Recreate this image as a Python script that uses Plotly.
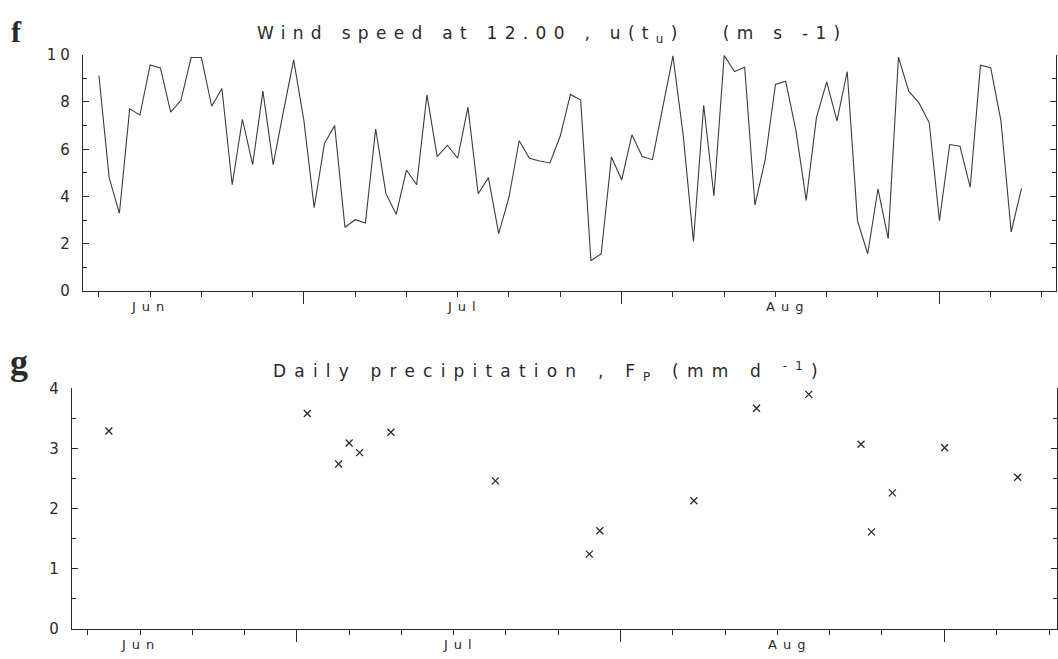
import pandas as pd
import plotly.graph_objects as go

# ---- data -------------------------------------------------------------
# wind speed at 12.00, one value per day starting 11 June
wind_start = "1987-06-11"
wind_speed = [9.12, 4.80, 3.29, 7.71, 7.45, 9.57, 9.44, 7.57, 8.07, 9.88,
              9.88, 7.82, 8.57, 4.50, 7.27, 5.35, 8.46, 5.35, 7.60, 9.78,
              7.20, 3.53, 6.24, 7.00, 2.70, 3.02, 2.88, 6.86, 4.12, 3.25,
              5.12, 4.50, 8.30, 5.69, 6.17, 5.62, 7.78, 4.12, 4.80, 2.43,
              3.96, 6.36, 5.62, 5.50, 5.42, 6.55, 8.32, 8.08, 1.28, 1.58,
              5.67, 4.70, 6.61, 5.69, 5.56, 7.75, 9.95, 6.60, 2.10, 7.86,
              4.02, 9.97, 9.29, 9.47, 3.64, 5.56, 8.74, 8.88, 6.79, 3.84,
              7.34, 8.85, 7.20, 9.29, 2.98, 1.58, 4.32, 2.22, 9.90, 8.46,
              7.96, 7.13, 2.98, 6.20, 6.13, 4.39, 9.56, 9.45, 7.20, 2.50,
              4.35]

# days with precipitation
precip_dates = ["1987-06-13", "1987-07-02", "1987-07-05", "1987-07-06",
                "1987-07-07", "1987-07-10", "1987-07-20", "1987-07-29",
                "1987-07-30", "1987-08-08", "1987-08-14", "1987-08-19",
                "1987-08-24", "1987-08-25", "1987-08-27", "1987-09-01",
                "1987-09-08"]
precip_mm = [3.29, 3.58, 2.74, 3.09, 2.93, 3.27, 2.46, 1.24, 1.63, 2.13,
             3.67, 3.90, 3.07, 1.61, 2.26, 3.01, 2.52]

month_labels = ["Jun", "Jul", "Aug"]
month_label_dates = ["1987-06-16", "1987-07-16 16:00", "1987-08-17 04:00"]

wind_ticks_y = [0, 2, 4, 6, 8, 10]
precip_ticks_y = [0, 1, 2, 3, 4]

# ---- geometry ---------------------------------------------------------
W, H = 1058, 659
INK = "#2a2a2a"
FONT = "DejaVu Sans"

wind_days = pd.date_range(wind_start, periods=len(wind_speed), freq="D")
t0 = pd.Timestamp(wind_start)

# tick marks every five days (1st, 6th, ... of each month), longer at month starts
tick_days = []
for m in (6, 7, 8, 9):
    for d in (1, 6, 11, 16, 21, 26):
        ts = pd.Timestamp(1987, m, d)
        if t0 <= ts <= pd.Timestamp("1987-09-11"):
            tick_days.append(ts)
month_starts = [t for t in tick_days if t.day == 1]
five_day = [t for t in tick_days if t.day != 1]


def px_x(p):
    return p / W


def px_y(p):
    return (H - p) / H


def spaced(s, ls, size):
    return f'<span style="letter-spacing:{ls}px;font-size:{size}px">{s}</span>'


def day_range(before, after):
    return [t0 - pd.Timedelta(days=before), t0 + pd.Timedelta(days=after)]


fig = go.Figure()

fig.add_trace(go.Scatter(
    x=wind_days, y=wind_speed, mode="lines",
    line=dict(color="#3c3c3c", width=1.1),
    xaxis="x", yaxis="y", showlegend=False))

fig.add_trace(go.Scatter(
    x=pd.to_datetime(precip_dates), y=precip_mm, mode="markers",
    marker=dict(symbol="x-thin", size=7, line=dict(color=INK, width=1.3)),
    xaxis="x2", yaxis="y2", showlegend=False))

xcommon = dict(
    type="date", showline=True, linecolor=INK, linewidth=1.2,
    mirror=False, showgrid=False, zeroline=False,
    tickvals=month_starts, showticklabels=False,
    ticks="outside", ticklen=12, tickwidth=1, tickcolor=INK,
    minor=dict(tickvals=five_day, ticks="outside", ticklen=5,
               tickwidth=1, tickcolor=INK),
)
ycommon = dict(
    showline=True, linecolor=INK, linewidth=1.2, mirror="ticks",
    showgrid=False, zeroline=False,
    ticks="inside", ticklen=6, tickwidth=1, tickcolor=INK,
    tickfont=dict(family=FONT, size=15, color=INK),
    ticklabelstandoff=5,
)

fig.update_layout(
    width=W, height=H,
    margin=dict(l=0, r=0, t=0, b=0),
    paper_bgcolor="white", plot_bgcolor="white",
    xaxis=dict(xcommon, domain=[px_x(83), px_x(1057)],
               range=day_range(1.56, 93.37), anchor="y"),
    yaxis=dict(ycommon, domain=[px_y(290), px_y(47)], range=[0, 10],
               tickvals=wind_ticks_y,
               ticktext=[spaced(str(v), 4, 15) for v in wind_ticks_y],
               minor=dict(dtick=1, ticks="inside", ticklen=4,
                          tickcolor=INK, tickwidth=1),
               anchor="x"),
    xaxis2=dict(xcommon, domain=[px_x(72), 1.0],
                range=day_range(1.53, 92.76), anchor="y2"),
    yaxis2=dict(ycommon, domain=[px_y(637), px_y(390)], range=[0, 4],
                tickvals=precip_ticks_y,
                ticktext=[spaced(str(v), 4, 15) for v in precip_ticks_y],
                minor=dict(dtick=0.5, ticks="inside", ticklen=4,
                           tickcolor=INK, tickwidth=1),
                anchor="x2"),
)

annotations = []
# month names under each time axis
for lab, d in zip(month_labels, month_label_dates):
    for xr, ybase in (("x", 296), ("x2", 644)):
        annotations.append(dict(
            x=pd.Timestamp(d), xref=xr, y=px_y(ybase), yref="paper",
            text=spaced(lab, 6, 13), showarrow=False, xanchor="center",
            yanchor="top", font=dict(family=FONT, size=13, color=INK)))

# panel titles
annotations.append(dict(
    x=px_x(553), y=px_y(26), xref="paper", yref="paper",
    text=spaced("Wind speed at 12.00 , u(t<sub>u</sub>)   (m s -1)", 7.3, 17),
    showarrow=False, xanchor="center", yanchor="middle",
    font=dict(family=FONT, size=17, color=INK)))
annotations.append(dict(
    x=px_x(550), y=px_y(373), xref="paper", yref="paper",
    text=spaced("Daily precipitation , F<sub>P</sub> (mm d <sup>-1</sup>)", 8.2, 17),
    showarrow=False, xanchor="center", yanchor="middle",
    font=dict(family=FONT, size=17, color=INK)))

# panel letters
annotations.append(dict(
    x=px_x(17), y=px_y(23), xref="paper", yref="paper", text="<b>f</b>",
    showarrow=False, xanchor="center", yanchor="middle",
    font=dict(family="Liberation Serif", size=30, color=INK)))
annotations.append(dict(
    x=px_x(19), y=px_y(363), xref="paper", yref="paper", text="<b>g</b>",
    showarrow=False, xanchor="center", yanchor="middle",
    font=dict(family="Liberation Serif", size=36, color=INK)))

fig.update_layout(annotations=annotations)

fig.write_html("out.html")
